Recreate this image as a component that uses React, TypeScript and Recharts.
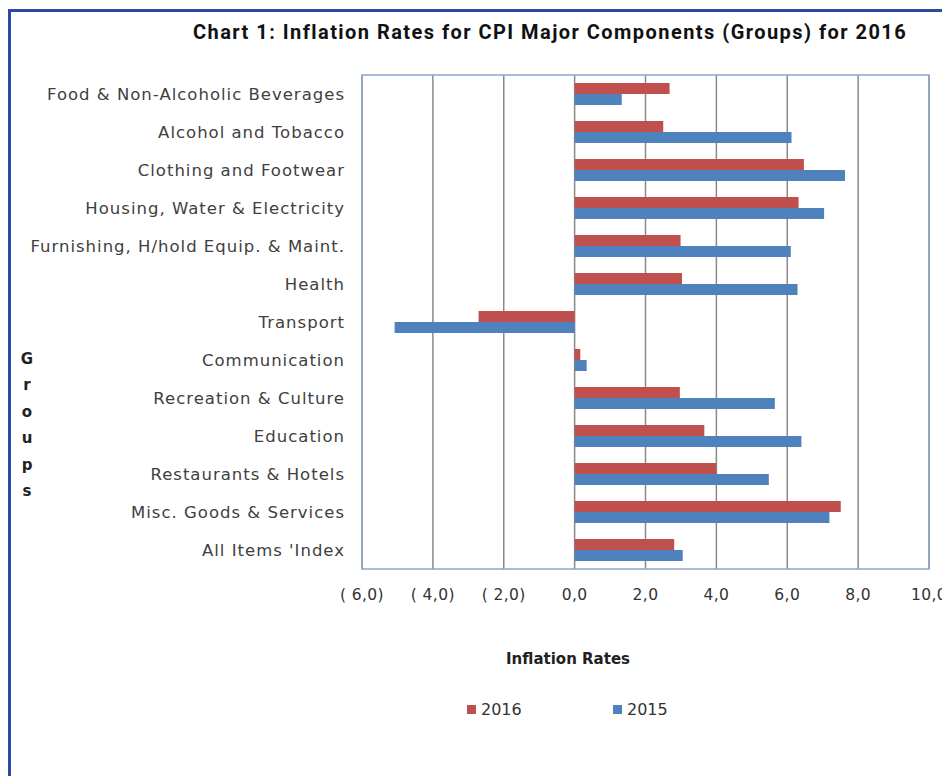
import { BarChart, Bar, XAxis, YAxis, CartesianGrid, Legend, ReferenceArea, Label } from "recharts";

const categories = [
  "Food & Non-Alcoholic Beverages",
  "Alcohol and Tobacco",
  "Clothing and Footwear",
  "Housing, Water & Electricity",
  "Furnishing, H/hold Equip. & Maint.",
  "Health",
  "Transport",
  "Communication",
  "Recreation & Culture",
  "Education",
  "Restaurants & Hotels",
  "Misc. Goods & Services",
  "All Items 'Index",
];

const rates2016 = [2.68, 2.5, 6.47, 6.32, 2.99, 3.03, -2.71, 0.16, 2.97, 3.66, 4.0, 7.51, 2.81];
const rates2015 = [1.33, 6.12, 7.63, 7.04, 6.1, 6.29, -5.08, 0.34, 5.65, 6.4, 5.48, 7.19, 3.05];

const seriesOrder = ["2016", "2015"];
const xTicks = [-6, -4, -2, 0, 2, 4, 6, 8, 10];

const data = categories.map((name, i) => ({
  name,
  y2016: rates2016[i],
  y2015: rates2015[i],
}));

const FONT = "'DejaVu Sans', sans-serif";

const fmt = (v: number) => {
  const s = Math.abs(v).toFixed(1).replace(".", ",");
  return v < 0 ? `( ${s})` : s;
};

function GroupsLabel(props: any) {
  const vb = props.viewBox || { x: 0, y: 0 };
  const letters = "Groups".split("");
  return (
    <text fontFamily={FONT} fontWeight="bold" fontSize={15} fill="#222" textAnchor="middle">
      {letters.map((ch, i) => (
        <tspan key={i} x={vb.x + 27} y={vb.y + 289 + i * 26.4}>
          {ch}
        </tspan>
      ))}
    </text>
  );
}

function LegendContent(props: any) {
  const items = [...(props.payload || [])].sort(
    (a: any, b: any) => seriesOrder.indexOf(a.value) - seriesOrder.indexOf(b.value)
  );
  const spots = [467, 613];
  return (
    <div style={{ position: "relative", height: 26, fontFamily: FONT, fontSize: 16, color: "#333" }}>
      {items.map((it: any, i: number) => (
        <div key={it.value} style={{ position: "absolute", left: spots[i], top: 2, display: "flex", alignItems: "center" }}>
          <span style={{ width: 9, height: 9, background: it.color, display: "inline-block", marginRight: 5 }} />
          <span>{it.value}</span>
        </div>
      ))}
    </div>
  );
}

export default function App() {
  return (
    <div style={{ position: "absolute", left: 0, top: 0, width: 942, height: 776, background: "#fff", overflow: "hidden" }}>
      <div
        style={{
          position: "absolute",
          left: 8,
          top: 9,
          width: 950,
          height: 800,
          borderTop: "3px solid #2c4aa0",
          borderLeft: "3px solid #2c4aa0",
        }}
      />
      <div
        style={{
          position: "absolute",
          left: 193,
          top: 20,
          fontFamily: "Roboto, sans-serif",
          fontWeight: "bold",
          fontSize: 20,
          letterSpacing: 1.45,
          color: "#111",
          whiteSpace: "nowrap",
        }}
      >
        Chart 1: Inflation Rates for CPI Major Components (Groups) for 2016
      </div>
      <div style={{ position: "absolute", left: 0, top: 0 }}>
        <BarChart
          width={942}
          height={776}
          data={data}
          layout="vertical"
          margin={{ top: 75, right: 13, left: 0, bottom: 107 }}
          barCategoryGap={8}
          barGap={0}
        >
          <CartesianGrid vertical horizontal={false} stroke="#8a8a8a" strokeWidth={1.5} />
          <XAxis
            type="number"
            domain={[-6, 10]}
            ticks={xTicks}
            tickFormatter={fmt}
            axisLine={false}
            tickLine={false}
            height={100}
            tickMargin={14}
            tick={{ fontFamily: FONT, fontSize: 15.5, fill: "#333", letterSpacing: 0.4 }}
            interval={0}
          >
            <Label
              content={(p: any) => (
                <text
                  x={p.viewBox.x + 206}
                  y={p.viewBox.y + 95}
                  textAnchor="middle"
                  fontFamily={FONT}
                  fontWeight="bold"
                  fontSize={15}
                  fill="#222"
                >
                  Inflation Rates
                </text>
              )}
            />
          </XAxis>
          <YAxis
            type="category"
            dataKey="name"
            width={362}
            axisLine={false}
            tickLine={false}
            tickSize={6}
            tickMargin={11}
            interval={0}
            tick={{ fontFamily: FONT, fontSize: 16.5, fill: "#404040", letterSpacing: 1 }}
          >
            <Label content={<GroupsLabel />} />
          </YAxis>
          <ReferenceArea x1={-6} x2={10} fill="none" stroke="#8ea5cc" strokeWidth={1.5} />
          <Legend
            layout="horizontal"
            verticalAlign="middle"
            align="center"
            wrapperStyle={{ top: 698, left: 0, width: 942 }}
            content={<LegendContent />}
          />
          <Bar dataKey="y2016" name="2016" fill="#c0504d" isAnimationActive={false} />
          <Bar dataKey="y2015" name="2015" fill="#4f81bd" isAnimationActive={false} />
        </BarChart>
      </div>
    </div>
  );
}
